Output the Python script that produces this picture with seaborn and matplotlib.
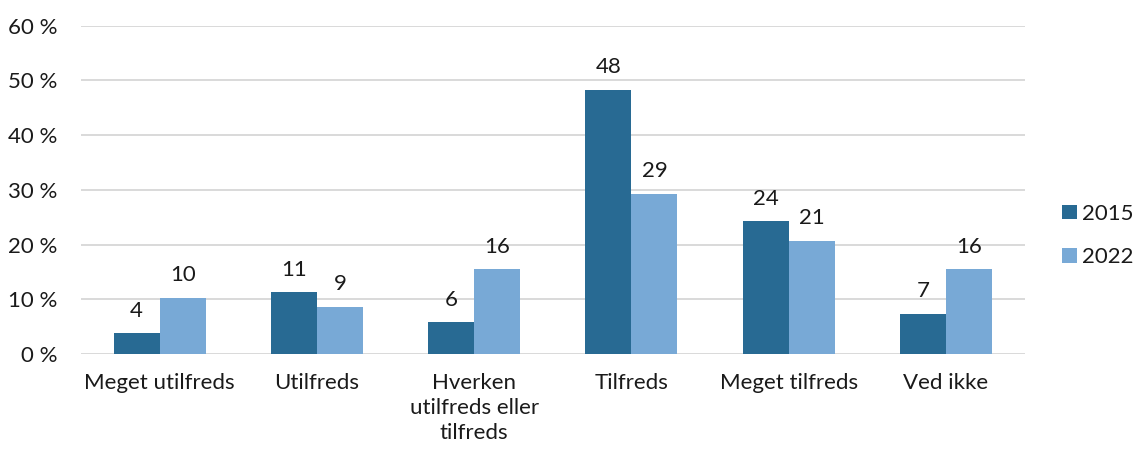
import numpy as np
import pandas as pd
import matplotlib
matplotlib.use("Agg")
import matplotlib.pyplot as plt
import seaborn as sns

categories = ['Meget utilfreds', 'Utilfreds', 'Hverken\nutilfreds eller\ntilfreds',
              'Tilfreds', 'Meget tilfreds', 'Ved ikke']
years = ['2015', '2022']
values_2015 = [3.8, 11.3, 5.8, 48.3, 24.3, 7.4]
values_2022 = [10.3, 8.6, 15.5, 29.3, 20.7, 15.5]
yticks = [0, 10, 20, 30, 40, 50, 60]
colors = ['#286A93', '#78A9D6']

df = pd.DataFrame({
    'kategori': categories * 2,
    'aar': [years[0]] * len(categories) + [years[1]] * len(categories),
    'andel': values_2015 + values_2022,
})

sns.set_theme(style='white')
plt.rcParams['font.family'] = ['Lato', 'DejaVu Sans']
plt.rcParams['text.color'] = '#1a1a1a'

fig = plt.figure(figsize=(11.34, 4.51), dpi=100)
ax = fig.add_axes([0.0714, 0.215, 0.8322, 0.728])

sns.barplot(data=df, x='kategori', y='andel', hue='aar', palette=colors,
            order=categories, hue_order=years, width=0.585, saturation=1,
            linewidth=0, ax=ax, zorder=3)

for cont in ax.containers:
    ax.bar_label(cont, fmt='%.0f', padding=9, fontsize=16, color='#1a1a1a')

ax.set_ylim(0, 60)
ax.set_yticks(yticks)
ax.set_yticklabels([f'{t} %' for t in yticks])
ax.yaxis.grid(True, color='#D9D9D9', linewidth=1.4, zorder=0)
ax.set_axisbelow(True)
for s in ax.spines.values():
    s.set_visible(False)
ax.tick_params(axis='y', length=0, pad=17, labelsize=16, labelcolor='#1a1a1a')
ax.tick_params(axis='x', length=0, pad=14, labelsize=16, labelcolor='#1a1a1a')
for lbl in ax.get_xticklabels():
    lbl.set_linespacing(1.3)
ax.set_xlabel('')
ax.set_ylabel('')

ax.legend(loc='center left', bbox_to_anchor=(1.035, 0.361), frameon=False,
          fontsize=16, handlelength=0.65, handleheight=0.65, handletextpad=0.25,
          labelspacing=1.05, borderaxespad=0, borderpad=0.2)

fig.savefig('out.png', dpi=100)
